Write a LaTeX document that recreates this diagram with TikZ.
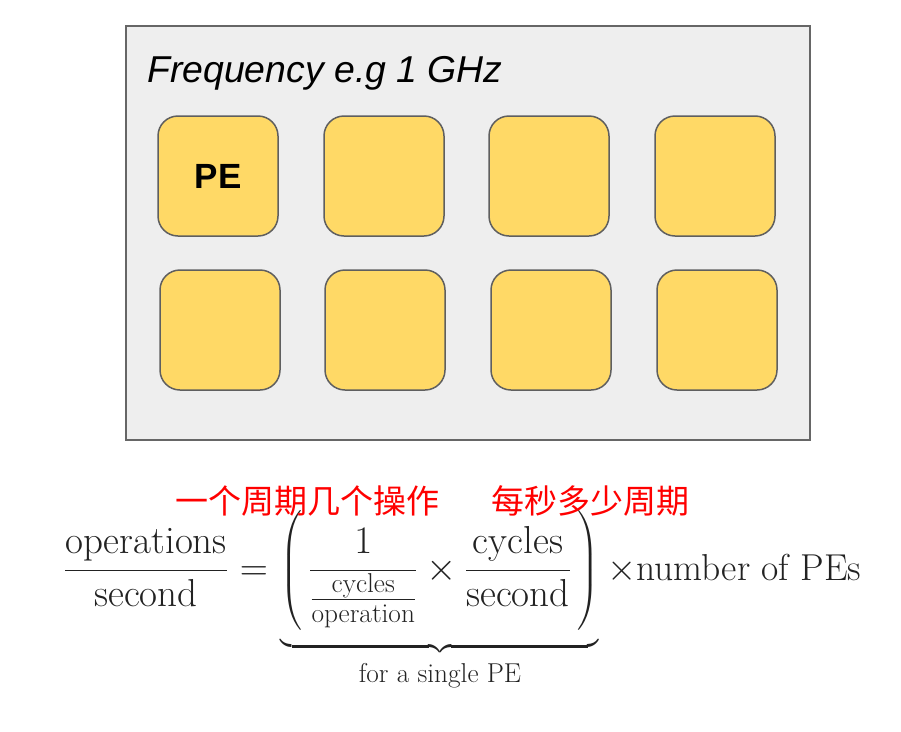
\RequirePackage{fix-cm}
\documentclass[tikz,border=0pt]{standalone}
\usepackage{fontspec}
\usepackage{amsmath}
\newfontfamily\arialfont{Liberation Sans}
\newfontfamily\cjkfont{Noto Sans CJK SC}
\definecolor{framegray}{HTML}{EEEEEE}
\definecolor{frameline}{HTML}{666666}
\definecolor{peyellow}{HTML}{FFD966}
\definecolor{peline}{HTML}{5F5F5F}
\definecolor{cnred}{HTML}{FF0000}
\definecolor{eqtext}{HTML}{222222}
\begin{document}
\begin{tikzpicture}[x=1pt,y=-1pt,
  frame/.style={draw=frameline, fill=framegray, line width=1.6pt, minimum width=684pt, minimum height=414pt, inner sep=0pt},
  pebox/.style={draw=peline, fill=peyellow, line width=1.5pt, rounded corners=20pt, minimum width=120pt, minimum height=120pt, inner sep=0pt, font=\arialfont\bfseries\fontsize{35}{40}\selectfont},
  cnlabel/.style={text=cnred, font=\cjkfont\fontsize{33}{38}\selectfont, inner sep=0pt},
  eqn/.style={inner sep=0pt, text=eqtext, font=\fontsize{39}{46}\selectfont}]
\useasboundingbox (0,0) rectangle (901,731);
\fill[white] (0,0) rectangle (901,731);
\node[frame] (frame) at (468,233) {};
\node[anchor=base west, font=\arialfont\itshape\fontsize{37.4}{44}\selectfont, inner sep=0pt] (freq) at (147,82) {Frequency e.g 1 GHz};
\node[pebox] (pe1) at (218,176) {PE};
\node[pebox] (pe2) at (384,176) {};
\node[pebox] (pe3) at (549,176) {};
\node[pebox] (pe4) at (715,176) {};
\node[pebox] (pe5) at (220,330) {};
\node[pebox] (pe6) at (385,330) {};
\node[pebox] (pe7) at (551,330) {};
\node[pebox] (pe8) at (717,330) {};
\node[eqn, anchor=base] (lhs) at (146,580) {$\displaystyle\frac{\text{operations}}{\text{second}}$};
\node[eqn, anchor=base] (eqsign) at (254,580) {$=$};
\node[eqn, anchor=base] (group) at (440,580) {$\displaystyle
  \underbrace{\left(\vrule height 68pt depth 52pt width 0pt\,\frac{1}{\frac{\text{cycles}}{\text{operation}}}\times\frac{\text{cycles}}{\text{second}}\,\right)\vrule depth 62pt width 0pt}_{\vrule height 27pt width 0pt\text{for a single PE}}$};
\node[eqn, anchor=base west, font=\fontsize{37.5}{44}\selectfont] (rhs) at (607,580) {$\times$number of PEs};
\node[cnlabel] (cn1) at (307,501) {一个周期几个操作};
\node[cnlabel] (cn2) at (590,501) {每秒多少周期};
\end{tikzpicture}
\end{document}
